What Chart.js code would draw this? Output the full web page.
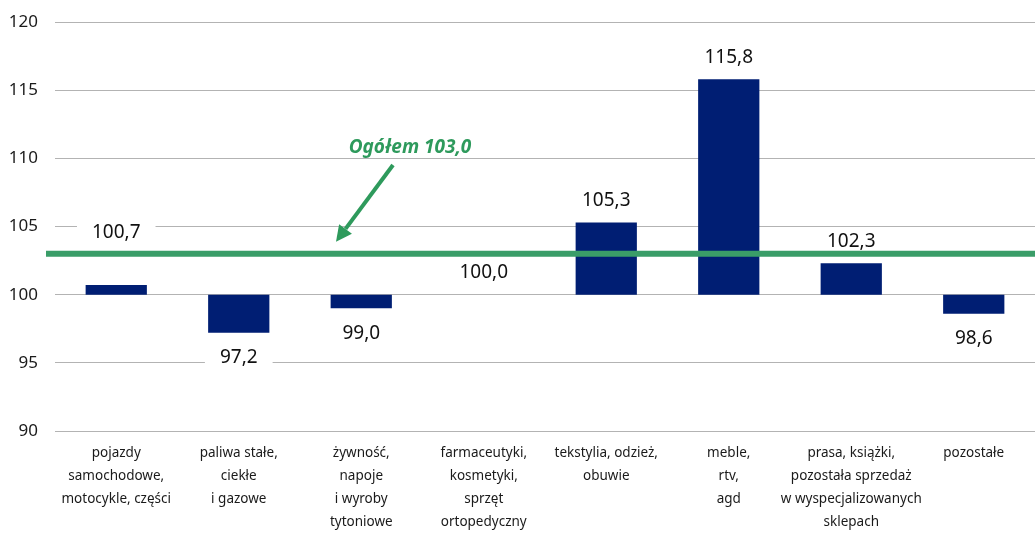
<!DOCTYPE html>
<html><head><meta charset="utf-8">
<script src="https://cdn.jsdelivr.net/npm/chart.js@4"></script>
<style>html,body{margin:0;padding:0;background:#fff}#wrap{width:1035px;height:534px;position:relative}</style>
</head><body><div id="wrap"><canvas id="c" width="1035" height="534"></canvas></div>
<script>
const categories = [
  ["pojazdy","samochodowe,","motocykle, części"],
  ["paliwa stałe,","ciekłe","i gazowe"],
  ["żywność,","napoje","i wyroby","tytoniowe"],
  ["farmaceutyki,","kosmetyki,","sprzęt","ortopedyczny"],
  ["tekstylia, odzież,","obuwie"],
  ["meble,","rtv,","agd"],
  ["prasa, książki,","pozostała sprzedaż","w wyspecjalizowanych","sklepach"],
  ["pozostałe"]
];
const values = [100.7, 97.2, 99.0, 100.0, 105.3, 115.8, 102.3, 98.6];
const baseValue = 100;
const overallValue = 103.0;
const overallLabel = "Ogółem 103,0";
const yMin = 90, yMax = 120, yStep = 5;

const fmt = v => v.toFixed(1).replace('.', ',');
const GREEN_LINE = '#3a9d68';
const GREEN_TXT = '#2e9a5c';

const overlayPlugin = {
  id: 'overlay',
  afterDatasetsDraw(chart) {
    const ctx = chart.ctx;
    const y = chart.scales.y;
    const ca = chart.chartArea;
    const lineY = y.getPixelForValue(overallValue);
    const meta = chart.getDatasetMeta(0);
    ctx.save();
    ctx.font = '19px "Noto Sans"';
    ctx.textAlign = 'center';
    ctx.textBaseline = 'middle';
    meta.data.forEach((bar, i) => {
      const v = values[i];
      const endY = y.getPixelForValue(v);
      let ly = v >= baseValue ? endY - 23 : endY + 24;
      if (Math.abs(ly - lineY) < 12) ly = lineY - 22;
      const t = fmt(v);
      const w = ctx.measureText(t).width + 30;
      ctx.fillStyle = '#fff';
      ctx.fillRect(bar.x - w / 2, ly - 11, w, 22);
      ctx.fillStyle = '#111';
      ctx.fillText(t, bar.x, ly + 1);
    });
    ctx.restore();
    ctx.save();
    ctx.strokeStyle = GREEN_LINE;
    ctx.lineWidth = 6;
    ctx.beginPath();
    ctx.moveTo(ca.left - 9, lineY);
    ctx.lineTo(ca.right, lineY);
    ctx.stroke();
    const tx = ca.left + 355, ty = ca.top + 126;
    ctx.fillStyle = GREEN_TXT;
    ctx.font = 'italic bold 19px "Noto Sans"';
    ctx.textAlign = 'center';
    ctx.textBaseline = 'middle';
    ctx.fillText(overallLabel, tx, ty);
    const x1 = ca.left + 338, y1 = ca.top + 143;
    const x2 = ca.left + 281, y2 = lineY - 12;
    const ang = Math.atan2(y2 - y1, x2 - x1);
    const hl = 16, hw = 8;
    const bx = x2 - hl * Math.cos(ang), by = y2 - hl * Math.sin(ang);
    ctx.strokeStyle = GREEN_TXT;
    ctx.lineWidth = 4;
    ctx.beginPath();
    ctx.moveTo(x1, y1);
    ctx.lineTo(bx, by);
    ctx.stroke();
    ctx.beginPath();
    ctx.moveTo(x2, y2);
    ctx.lineTo(bx + hw * Math.sin(ang), by - hw * Math.cos(ang));
    ctx.lineTo(bx - hw * Math.sin(ang), by + hw * Math.cos(ang));
    ctx.closePath();
    ctx.fill();
    ctx.restore();
  }
};

new Chart(document.getElementById('c'), {
  type: 'bar',
  data: {
    labels: categories,
    datasets: [{
      data: values.map(v => [baseValue, v]),
      backgroundColor: '#001e73',
      borderWidth: 0,
      barPercentage: 0.5,
      categoryPercentage: 1.0
    }]
  },
  options: {
    responsive: false,
    animation: false,
    layout: { padding: { top: 22, left: 0, right: 0, bottom: 0 } },
    plugins: { legend: { display: false }, tooltip: { enabled: false } },
    scales: {
      x: {
        grid: { display: false, drawTicks: false },
        border: { display: false },
        ticks: {
          autoSkip: false, maxRotation: 0, minRotation: 0,
          color: '#1a1a1a', padding: 11,
          font: { family: '"Noto Sans"', size: 13.5, lineHeight: 1.7 }
        },
        afterFit(s) { s.height = 103; }
      },
      y: {
        min: yMin, max: yMax,
        grid: { color: '#b3b3b3', lineWidth: 1, drawTicks: false },
        border: { display: false },
        ticks: {
          stepSize: yStep, padding: 17, color: '#1a1a1a',
          font: { family: '"Noto Sans"', size: 17 }
        },
        afterFit(s) { s.width = 55; s.paddingTop = 10; s.paddingBottom = 0; }
      }
    }
  },
  plugins: [overlayPlugin]
});
</script></body></html>
